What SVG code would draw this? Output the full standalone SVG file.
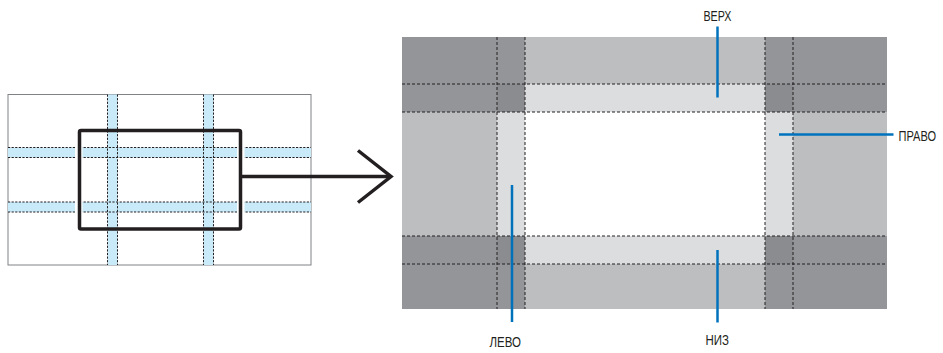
<svg xmlns="http://www.w3.org/2000/svg" width="943" height="353" viewBox="0 0 943 353">
<style>
.band{fill:#c8eaf9}
.d1{stroke:#231f20;stroke-width:1;stroke-dasharray:2.2 1.4;fill:none}
.d2{stroke:#231f20;stroke-width:1;stroke-dasharray:3 2;fill:none}
.dark{fill:#939598}
.mid{fill:#bcbec0}
.light{fill:#dcddde}
.lead{stroke:#0072bc;stroke-width:2.5;fill:none}
.lbl{font-family:"Liberation Sans",Arial,sans-serif;font-size:11px;fill:#231f20}
</style>
<g id="screen">
<rect x="8" y="94.5" width="303" height="170.5" fill="#fff" stroke="#808285" stroke-width="1"/>
<rect class="band" x="107.5" y="94.5" width="10" height="170.5"/>
<rect class="band" x="203.5" y="94.5" width="10" height="170.5"/>
<rect class="band" x="8" y="147.5" width="303" height="10"/>
<rect class="band" x="8" y="202" width="303" height="10"/>
<path class="d1" d="M107.5 94.5V265M117.5 94.5V265M203.5 94.5V265M213.5 94.5V265M8 147.5H311M8 157.5H311M8 202H311M8 212H311"/>
<rect x="75" y="145" width="7.5" height="14" fill="#fff"/>
<rect x="75" y="200" width="7.5" height="14" fill="#fff"/>
<rect x="237" y="145" width="7.5" height="14" fill="#fff"/>
<rect x="237" y="200" width="7.5" height="14" fill="#fff"/>
<rect x="79.5" y="130.5" width="161" height="98.5" rx="1.5" fill="none" stroke="#231f20" stroke-width="3.5"/>
</g>
<g id="edge-blend">
<rect class="dark" x="402" y="37" width="123" height="75"/>
<rect class="dark" x="765" y="37" width="122" height="75"/>
<rect class="dark" x="402" y="236" width="123" height="73"/>
<rect class="dark" x="765" y="236" width="122" height="73"/>
<rect fill="#8a8c8f" x="497" y="84" width="28" height="28"/>
<rect fill="#8a8c8f" x="765" y="84" width="28" height="28"/>
<rect fill="#8a8c8f" x="497" y="236" width="28" height="28"/>
<rect fill="#8a8c8f" x="765" y="236" width="28" height="28"/>
<rect class="mid" x="525" y="37" width="240" height="47"/>
<rect class="light" x="525" y="84" width="240" height="28"/>
<rect class="mid" x="402" y="112" width="95" height="124"/>
<rect class="light" x="497" y="112" width="28" height="124"/>
<rect fill="#fff" x="525" y="112" width="240" height="124"/>
<rect class="light" x="765" y="112" width="28" height="124"/>
<rect class="mid" x="793" y="112" width="94" height="124"/>
<rect class="light" x="525" y="236" width="240" height="28"/>
<rect class="mid" x="525" y="264" width="240" height="45"/>
<path class="d2" d="M402 84H887M402 112H887M402 236H887M402 264H887M497 37V309M525 37V309M765 37V309M793 37V309"/>
</g>
<g id="connectors">
<path d="M241 176.5H391" stroke="#231f20" stroke-width="3.5" fill="none"/>
<path d="M358 150.5L391 176.5L358 202.5" stroke="#231f20" stroke-width="3.5" fill="none" stroke-linejoin="miter"/>
<path class="lead" d="M717.5 26.5V97.5"/>
<path class="lead" d="M779 134.5H893.5"/>
<path class="lead" d="M512 185V322"/>
<path class="lead" d="M717.5 250V322.5"/>
</g>
<g id="label-top" transform="translate(703.5 21) scale(1 1.4)"><text class="lbl" x="0" y="0" textLength="28" lengthAdjust="spacingAndGlyphs">ВЕРХ</text></g>
<g id="label-right" transform="translate(898.5 141) scale(1 1.4)"><text class="lbl" x="0" y="0" textLength="37.5" lengthAdjust="spacingAndGlyphs">ПРАВО</text></g>
<g id="label-left" transform="translate(489.5 346.5) scale(1 1.4)"><text class="lbl" x="0" y="0" textLength="31.5" lengthAdjust="spacingAndGlyphs">ЛЕВО</text></g>
<g id="label-bottom" transform="translate(705.5 345) scale(1 1.4)"><text class="lbl" x="0" y="0" textLength="23.5" lengthAdjust="spacingAndGlyphs">НИЗ</text></g>
</svg>
